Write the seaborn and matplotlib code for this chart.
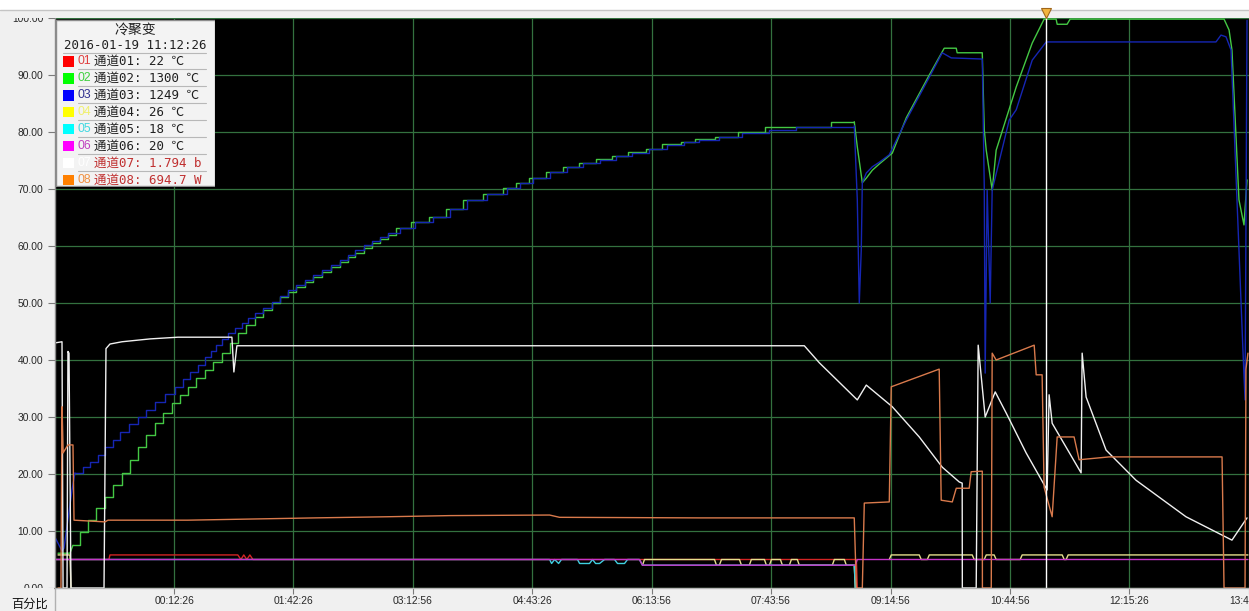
import matplotlib
matplotlib.use('Agg')

import matplotlib.pyplot as plt
from matplotlib.patches import Rectangle
from matplotlib.lines import Line2D
from matplotlib.transforms import blended_transform_factory
import seaborn as sns
import pandas as pd

# time axis in minutes after 00:00, values in percent
tick_minutes = [12.43, 102.43, 192.93, 283.43, 373.93, 463.93, 554.93, 644.93, 735.43, 825.93]
tick_labels = ['00:12:26', '01:42:26', '03:12:56', '04:43:26', '06:13:56',
               '07:43:56', '09:14:56', '10:44:56', '12:15:26', '13:45:56']
y_ticks = [0, 10, 20, 30, 40, 50, 60, 70, 80, 90, 100]
cursor_time = 672.43

legend_title = '冷聚变'
legend_stamp = '2016-01-19 11:12:26'
channels = ['01', '02', '03', '04', '05', '06', '07', '08']
channel_names = ['通道01', '通道02', '通道03', '通道04', '通道05', '通道06', '通道07', '通道08']
channel_readings = ['22 ℃', '1300 ℃', '1249 ℃', '26 ℃', '18 ℃', '20 ℃', '1.794 b', '694.7 W']

# channel 01
ch01_t = [-77.8, -37.0, -36.2, 60.6, 62.9, 65.1, 67.4, 69.7, 72.0, 528.8, 529.5]
ch01_v = [5.0, 5.0, 5.8, 5.8, 5.0, 5.8, 5.0, 5.8, 5.0, 5.0, 0.0]

# channel 02
ch02_a_t = [-75.5, -66.5, -64.2]
ch02_a_v = [6.1, 6.1, 7.5]
ch02_stair_t = [-64.2, -58.9, -52.8, -46.8, -40.0, -33.9, -27.1, -21.1, -15.0, -9.0,
                -2.2, 3.9, 10.7, 16.7, 22.8, 28.8, 35.6, 41.7, 48.5, 54.6,
                60.6, 66.7, 73.5, 79.5, 86.3, 92.4, 98.4, 104.5, 111.3, 117.3,
                124.1, 130.9, 137.8, 143.8, 149.1, 155.9, 162.0, 168.0, 174.1, 180.1,
                191.4, 205.1, 217.9, 230.8, 245.9, 261.0, 270.9, 280.7, 293.5, 306.4,
                318.5, 331.4, 344.2, 356.3, 369.2, 382.0, 395.7, 407.0, 422.1, 439.5,
                459.9, 509.9, 527.2]
ch02_stair_v = [7.5, 9.8, 11.9, 14.0, 16.0, 18.1, 20.2, 22.5, 24.7, 26.8,
                28.9, 30.7, 32.5, 33.9, 35.3, 36.8, 38.2, 39.6, 41.2, 43.0,
                44.7, 46.1, 47.5, 48.8, 50.0, 51.1, 51.9, 52.8, 53.7, 54.6,
                55.4, 56.3, 57.2, 58.1, 58.8, 59.6, 60.5, 61.2, 61.9, 63.2,
                64.2, 65.1, 66.5, 68.1, 69.1, 70.2, 71.1, 71.9, 73.0, 73.9,
                74.6, 75.3, 75.8, 76.5, 77.0, 77.9, 78.2, 78.8, 79.1, 80.0,
                80.9, 81.8, 81.8]
ch02_b_t = [527.2, 529.5, 533.3, 536.3, 540.9, 546.2, 556.0, 566.6, 584.0, 595.3,
            604.4, 605.1, 624.1, 625.6, 627.1, 631.6, 634.6, 649.8, 661.9, 670.9,
            680.0, 680.8, 688.3, 690.6, 807.1, 810.9, 813.1, 818.4, 822.2, 824.5]
ch02_b_v = [81.8, 77.4, 71.1, 71.9, 73.3, 74.4, 76.3, 82.5, 90.0, 94.7,
            94.7, 93.9, 93.9, 80.4, 76.8, 69.8, 76.8, 87.9, 95.6, 99.8,
            99.8, 98.9, 98.9, 99.8, 99.8, 97.9, 94.4, 68.1, 63.7, 71.6]

# channel 03
ch03_a_t = [-77.8, -72.5, -71.0, -64.9, -62.7]
ch03_a_v = [8.9, 6.5, 7.0, 17.2, 20.2]
ch03_stair_t = [-62.7, -56.6, -51.3, -45.3, -40.0, -33.9, -28.6, -21.8, -15.0, -9.0,
                -2.2, 5.4, 13.0, 19.0, 24.3, 30.4, 35.6, 40.2, 44.0, 48.5,
                53.0, 58.3, 63.6, 68.2, 73.5, 79.5, 86.3, 92.4, 98.4, 104.5,
                111.3, 117.3, 124.1, 130.9, 137.8, 143.8, 149.1, 155.9, 162.0, 168.0,
                174.1, 183.1, 194.5, 208.1, 220.9, 233.8, 248.9, 264.1, 273.9, 283.7,
                296.6, 309.4, 321.5, 334.4, 347.2, 359.3, 372.2, 385.1, 398.7, 410.0,
                425.1, 442.5, 463.0, 483.4, 527.2]
ch03_stair_v = [20.2, 21.2, 22.1, 23.4, 24.7, 26.0, 27.4, 28.7, 30.0, 31.2,
                32.6, 34.0, 35.3, 36.6, 37.9, 39.2, 40.5, 41.6, 42.6, 43.7,
                44.7, 45.6, 46.5, 47.4, 48.2, 49.2, 50.2, 51.2, 52.3, 53.2,
                54.0, 54.9, 55.8, 56.6, 57.5, 58.4, 59.3, 60.1, 60.9, 61.6,
                62.3, 63.2, 64.2, 65.1, 66.5, 68.1, 69.1, 70.2, 71.1, 71.9,
                73.0, 73.9, 74.6, 75.1, 75.8, 76.3, 77.0, 77.7, 78.2, 78.6,
                79.1, 79.8, 80.4, 80.9, 81.1]
ch03_b_t = [527.2, 529.5, 531.0, 532.5, 533.3, 536.3, 540.9, 546.2, 553.7, 566.6,
            584.0, 593.8, 600.6, 624.1, 625.6, 626.3, 627.8, 630.1, 631.6, 644.5,
            649.8, 661.9, 672.5, 801.0, 804.8, 808.6, 812.4, 821.4, 823.0, 824.5]
ch03_b_v = [81.1, 68.1, 50.0, 59.3, 71.1, 72.8, 73.9, 74.7, 76.0, 82.1,
            89.6, 93.9, 93.0, 92.8, 70.4, 37.7, 69.8, 50.0, 69.8, 82.1,
            83.9, 92.6, 95.8, 95.8, 97.0, 96.7, 94.4, 41.8, 33.0, 99.6]

# channel 04
ch04_a_t = [-75.5, -66.5, -65.7]
ch04_a_v = [5.8, 5.8, 0.0]
ch04_b_t = [366.9, 368.4, 421.4, 422.9, 425.1, 426.7, 440.3, 441.8, 447.8, 449.3,
            459.2, 460.7, 463.0, 464.5, 471.3, 472.8, 478.1, 479.6, 484.1, 485.6,
            510.6, 512.1, 519.7, 521.2, 527.2, 528.0]
ch04_b_v = [4.0, 5.0, 5.0, 4.0, 4.0, 5.0, 5.0, 4.0, 4.0, 5.0,
            5.0, 4.0, 4.0, 5.0, 5.0, 4.0, 4.0, 5.0, 5.0, 4.0,
            4.0, 5.0, 5.0, 4.0, 4.0, 0.0]
ch04_c_t = [553.7, 555.2, 576.4, 577.9, 582.5, 584.0, 616.5, 618.0, 625.6, 627.1,
            633.1, 634.6, 652.8, 654.3, 684.6, 686.1, 687.6, 689.1, 825.2]
ch04_c_v = [5.0, 5.8, 5.8, 5.0, 5.0, 5.8, 5.8, 5.0, 5.0, 5.8,
            5.8, 5.0, 5.0, 5.8, 5.8, 5.0, 5.0, 5.8, 5.8]

# channel 05
ch05_t = [-77.8, 296.6, 298.1, 300.4, 303.4, 305.6, 317.7, 319.3, 326.8, 329.1,
          331.4, 334.4, 338.2, 345.7, 348.0, 353.3, 355.6, 364.6, 366.9, 527.2, 528.0]
ch05_v = [5.0, 5.0, 4.3, 5.0, 4.3, 5.0, 5.0, 4.3, 4.3, 5.0,
          4.3, 4.3, 5.0, 5.0, 4.3, 4.3, 5.0, 5.0, 4.0, 4.0, 0.0]

# channel 06
ch06_t = [-77.8, 364.6, 366.9, 528.0, 529.5, 825.2]
ch06_v = [5.0, 5.0, 4.0, 4.0, 5.0, 5.0]

# channel 07
ch07_t = [-77.8, -72.5, -71.7, -68.7, -68.0, -67.2, -65.7, -40.7, -39.2, -36.2,
          -27.1, -5.9, 15.2, 56.1, 57.6, 59.9, 98.4, 489.4, 500.8, 529.5,
          536.3, 556.0, 576.4, 593.8, 606.7, 608.9, 609.0, 619.5, 621.0, 626.3,
          633.9, 642.2, 657.3, 673.2, 674.7, 677.0, 698.9, 699.7, 702.7, 717.8,
          740.5, 778.3, 813.1, 824.5]
ch07_v = [43.0, 43.2, 0.0, 0.0, 41.5, 41.2, 0.0, 0.0, 42.0, 42.8,
          43.2, 43.7, 44.0, 44.0, 37.9, 42.5, 42.5, 42.5, 39.5, 33.0,
          35.6, 31.8, 26.5, 21.2, 18.6, 18.4, 0.0, 0.0, 42.6, 30.0,
          34.4, 30.7, 23.7, 17.2, 33.9, 28.9, 20.2, 41.2, 33.5, 24.2,
          18.9, 12.5, 8.4, 12.3]

# channel 08
ch08_t = [-75.5, -73.3, -72.5, -71.7, -68.0, -64.2, -63.4, -40.0, -37.7, 22.8,
          118.8, 174.1, 220.9, 296.6, 304.1, 410.0, 527.2, 528.8, 533.3, 534.8,
          553.7, 555.2, 591.5, 593.0, 601.4, 604.4, 614.2, 615.7, 624.1, 624.2,
          630.9, 631.6, 634.6, 663.4, 664.9, 669.4, 670.9, 677.0, 680.8, 693.6,
          697.4, 720.1, 805.6, 807.1, 823.0, 823.7, 825.2]
ch08_v = [0.0, 0.0, 31.8, 23.7, 25.1, 25.1, 11.9, 11.6, 11.9, 11.9,
          12.3, 12.5, 12.7, 12.8, 12.4, 12.3, 12.3, 0.0, 0.0, 14.9,
          15.1, 35.3, 38.4, 15.4, 15.1, 17.5, 17.5, 20.4, 20.5, 0.0,
          0.0, 41.2, 40.0, 42.6, 37.4, 37.4, 17.7, 12.5, 26.5, 26.5,
          22.5, 23.0, 23.0, 0.0, 0.0, 38.4, 41.2]

line_colors = ['#d42424', '#44c844', '#1626b4', '#e6df8c', '#40d0e0', '#c434c8', '#f0f0f0', '#d97a4c']
key_colors = ['#ff0000', '#00ff00', '#0000ff', '#ffff00', '#00ffff', '#ff00ff', '#ffffff', '#ff8000']
num_colors = ['#e04040', '#40d040', '#303090', '#f0f070', '#40d8e0', '#c040c0', '#ffffff', '#f09040']
text_colors = ['#202020'] * 6 + ['#c03030'] * 2


def seg(ch, t, v, name):
    return pd.DataFrame({'t': t, 'v': v, 'ch': ch, 'seg': name})


stairs = pd.concat([
    seg('02', ch02_stair_t, ch02_stair_v, '02s'),
    seg('03', ch03_stair_t, ch03_stair_v, '03s'),
], ignore_index=True)

lines = pd.concat([
    seg('01', ch01_t, ch01_v, '01'),
    seg('02', ch02_a_t, ch02_a_v, '02a'),
    seg('02', ch02_b_t, ch02_b_v, '02b'),
    seg('03', ch03_a_t, ch03_a_v, '03a'),
    seg('03', ch03_b_t, ch03_b_v, '03b'),
    seg('04', ch04_a_t, ch04_a_v, '04a'),
    seg('04', ch04_b_t, ch04_b_v, '04b'),
    seg('04', ch04_c_t, ch04_c_v, '04c'),
    seg('05', ch05_t, ch05_v, '05'),
    seg('06', ch06_t, ch06_v, '06'),
    seg('07', ch07_t, ch07_v, '07'),
    seg('08', ch08_t, ch08_v, '08'),
], ignore_index=True)

palette = dict(zip(channels, line_colors))

sns.set_style('darkgrid', {
    'axes.facecolor': 'black',
    'figure.facecolor': '#f0f0f0',
    'grid.color': '#2f6b3a',
    'xtick.bottom': True,
    'ytick.left': True,
    'xtick.color': '#7a7a7a',
    'ytick.color': '#7a7a7a',
})
plt.rcParams['font.family'] = ['Liberation Sans', 'Noto Sans CJK SC', 'DejaVu Sans']

W, H = 1249, 611
fig = plt.figure(figsize=(W / 100, H / 100), dpi=100)
ax = fig.add_axes([55 / W, 23 / H, 1194 / W, 570 / H])

sns.lineplot(data=stairs, x='t', y='v', hue='ch', units='seg', estimator=None, sort=False,
             palette=palette, hue_order=channels, legend=False, ax=ax,
             linewidth=1.0, drawstyle='steps-post')
sns.lineplot(data=lines, x='t', y='v', hue='ch', units='seg', estimator=None, sort=False,
             palette=palette, hue_order=channels, legend=False, ax=ax, linewidth=1.0)
ax.axvline(cursor_time, color='white', lw=1.0)

ax.set_xlim(-77.8, 826.0)
ax.set_ylim(0.15, 100)
ax.set_xticks(tick_minutes, labels=tick_labels)
ax.set_yticks(y_ticks, labels=['%.2f' % y for y in y_ticks])
ax.set_xlabel('')
ax.set_ylabel('')
ax.grid(True, color='#33713f', lw=0.9)
ax.tick_params(axis='x', length=4, pad=1.5, labelsize=7.4, labelcolor='#282828', width=0.8)
ax.tick_params(axis='y', length=5, pad=3.5, labelsize=7.4, labelcolor='#282828', width=0.8)
for side in ['top', 'right']:
    ax.spines[side].set_visible(False)
ax.spines['left'].set_color('#8a8a8a')
ax.spines['bottom'].set_color('#b4b4b4')
for side in ['left', 'bottom']:
    ax.spines[side].set_linewidth(1.0)

# panels of the window frame that clip the edge labels
fig.add_artist(Rectangle((0, 1 - 10 / H), 1, 10 / H, transform=fig.transFigure,
                         fc='white', ec='none', zorder=5))
fig.add_artist(Rectangle((0, 1 - 18 / H), 1, 8 / H, transform=fig.transFigure,
                         fc='#f0f0f0', ec='none', zorder=5))
fig.add_artist(Line2D([0, 1], [1 - 10 / H, 1 - 10 / H], transform=fig.transFigure,
                      color='#c4c4c4', lw=1, zorder=5))
fig.add_artist(Rectangle((0, 0), 54 / W, 23 / H, transform=fig.transFigure,
                         fc='#f0f0f0', ec='none', zorder=5))
fig.add_artist(Line2D([55 / W, 55 / W], [0, 23 / H], transform=fig.transFigure,
                      color='#b0b0b0', lw=1, zorder=5))
fig.text(30 / W, 1 - 604 / H, '百分比', ha='center', va='center', fontsize=8.8,
         color='#101010', family=['Noto Sans CJK SC'], zorder=6)

# cursor marker
trans = blended_transform_factory(ax.transData, fig.transFigure)
fig.add_artist(Line2D([cursor_time], [1 - 13 / H], transform=trans, marker='v',
                      markersize=7, mfc='#f2b43e', mec='#a0661a', mew=0.8,
                      lw=0, zorder=7))

# reading panel
lax = fig.add_axes([55 / W, 1 - 187 / H, 160 / W, 168 / H])
lax.set_zorder(3)
lax.set_xlim(55, 215)
lax.set_ylim(187, 19)
lax.axis('off')
lax.add_patch(Rectangle((55.5, 19.5), 159, 167, fc='#f3f3f3', ec='#8c8c8c', lw=1))
lax.text(135, 30, legend_title, ha='center', va='center', fontsize=10,
         color='#202020', family=['Noto Sans CJK SC'])
lax.text(135, 45.5, legend_stamp, ha='center', va='center', fontsize=9,
         color='#202020', family=['DejaVu Sans Mono'])
lax.plot([63, 206], [53.5, 53.5], color='#b8b8b8', lw=0.8)
for i, ch in enumerate(channels):
    y = 61 + 17 * i
    lax.add_patch(Rectangle((63, y - 5), 10.5, 10.5, fc=key_colors[i], ec='none'))
    lax.text(78, y, ch, ha='left', va='center', fontsize=8.8, color=num_colors[i],
             family=['Liberation Sans'])
    lax.text(94, y, channel_names[i] + ': ' + channel_readings[i], ha='left', va='center',
             fontsize=9, color=text_colors[i],
             family=['DejaVu Sans Mono', 'Noto Sans CJK SC', 'DejaVu Sans'])
    if i < 7:
        lax.plot([78, 206], [y + 8.5, y + 8.5], color='#b8b8b8', lw=0.8)

fig.savefig('out.png', dpi=100, facecolor=fig.get_facecolor())
